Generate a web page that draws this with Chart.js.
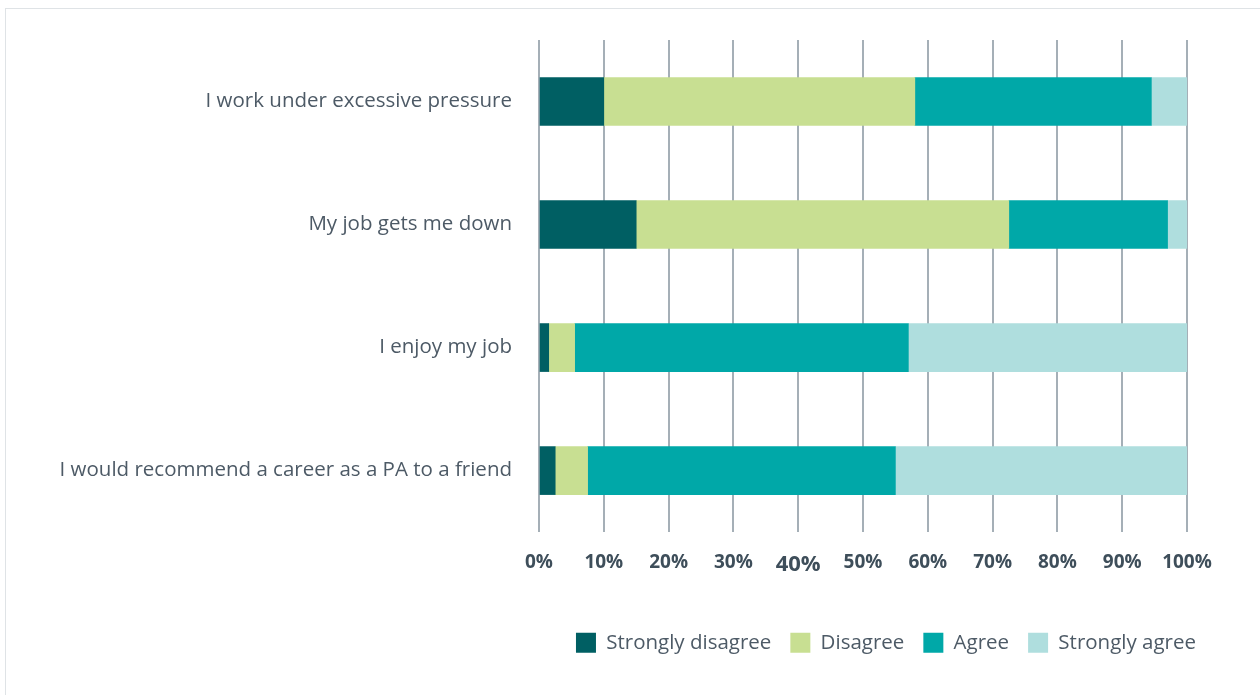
<!DOCTYPE html>
<html>
<head>
<meta charset="utf-8">
<script src="https://cdn.jsdelivr.net/npm/chart.js@4"></script>
<style>
  body { margin: 0; background: #fff; overflow: hidden; }
  #frame { position: absolute; left: 5px; top: 8px; width: 1400px; height: 800px; border: 1px solid #dfe3e6; }
  #chart { position: absolute; left: 0; top: 0; }
</style>
</head>
<body>
<div id="frame"></div>
<canvas id="chart" width="1260" height="695"></canvas>
<script>
// survey statements (top to bottom)
const categories = [
    "I work under excessive pressure",
    "My job gets me down",
    "I enjoy my job",
    "I would recommend a career as a PA to a friend"
];
// percentages
const stronglyDisagree = [10, 15, 1.5, 2.5];
const disagree = [48, 57.5, 4, 5];
const agree = [36.5, 24.5, 51.5, 47.5];
const stronglyAgree = [5.5, 3, 43, 45];
const tickValues = [0, 10, 20, 30, 40, 50, 60, 70, 80, 90, 100];

const textColor = "#4d5a66";
const fontFamily = "'Open Sans', sans-serif";

// nudge the legend to the right a bit, like the original
const legendShift = {
    id: "legendShift",
    afterLayout(chart) {
        chart.legend.left += 28;
        chart.legend.right += 28;
    }
};

const ctx = document.getElementById("chart").getContext("2d");
new Chart(ctx, {
    type: "bar",
    data: {
        labels: categories,
        datasets: [
            { label: "Strongly disagree", data: stronglyDisagree, backgroundColor: "#005f63" },
            { label: "Disagree", data: disagree, backgroundColor: "#c8df92" },
            { label: "Agree", data: agree, backgroundColor: "#00a8a8" },
            { label: "Strongly agree", data: stronglyAgree, backgroundColor: "#afdede" }
        ]
    },
    plugins: [legendShift],
    options: {
        indexAxis: "y",
        responsive: false,
        animation: false,
        barThickness: 48,
        layout: { padding: { left: 0, right: 73, top: 40, bottom: 32 } },
        scales: {
            x: {
                stacked: true,
                min: 0,
                max: 100,
                afterBuildTicks: (axis) => { axis.ticks = tickValues.map(v => ({ value: v })); },
                afterFit: (axis) => { axis.height += 17; },
                grid: { color: "#a5afb7", lineWidth: 2, drawTicks: false },
                border: { display: false },
                ticks: {
                    padding: 19,
                    color: "#3e4e5a",
                    callback: (v) => v + "%",
                    font: (c) => ({
                        family: fontFamily,
                        weight: "bold",
                        size: c.tick && c.tick.value === 40 ? 22 : 19
                    })
                }
            },
            y: {
                stacked: true,
                afterFit: (axis) => { axis.width = 539; },
                grid: { display: false, drawTicks: false },
                border: { display: false },
                ticks: {
                    padding: 27,
                    color: textColor,
                    font: { family: fontFamily, size: 20.5 }
                }
            }
        },
        plugins: {
            legend: {
                position: "bottom",
                align: "end",
                labels: {
                    boxWidth: 20,
                    boxHeight: 20,
                    padding: 19,
                    color: textColor,
                    font: { family: fontFamily, size: 20.5 }
                }
            },
            tooltip: { enabled: false }
        }
    }
});
</script>
</body>
</html>
